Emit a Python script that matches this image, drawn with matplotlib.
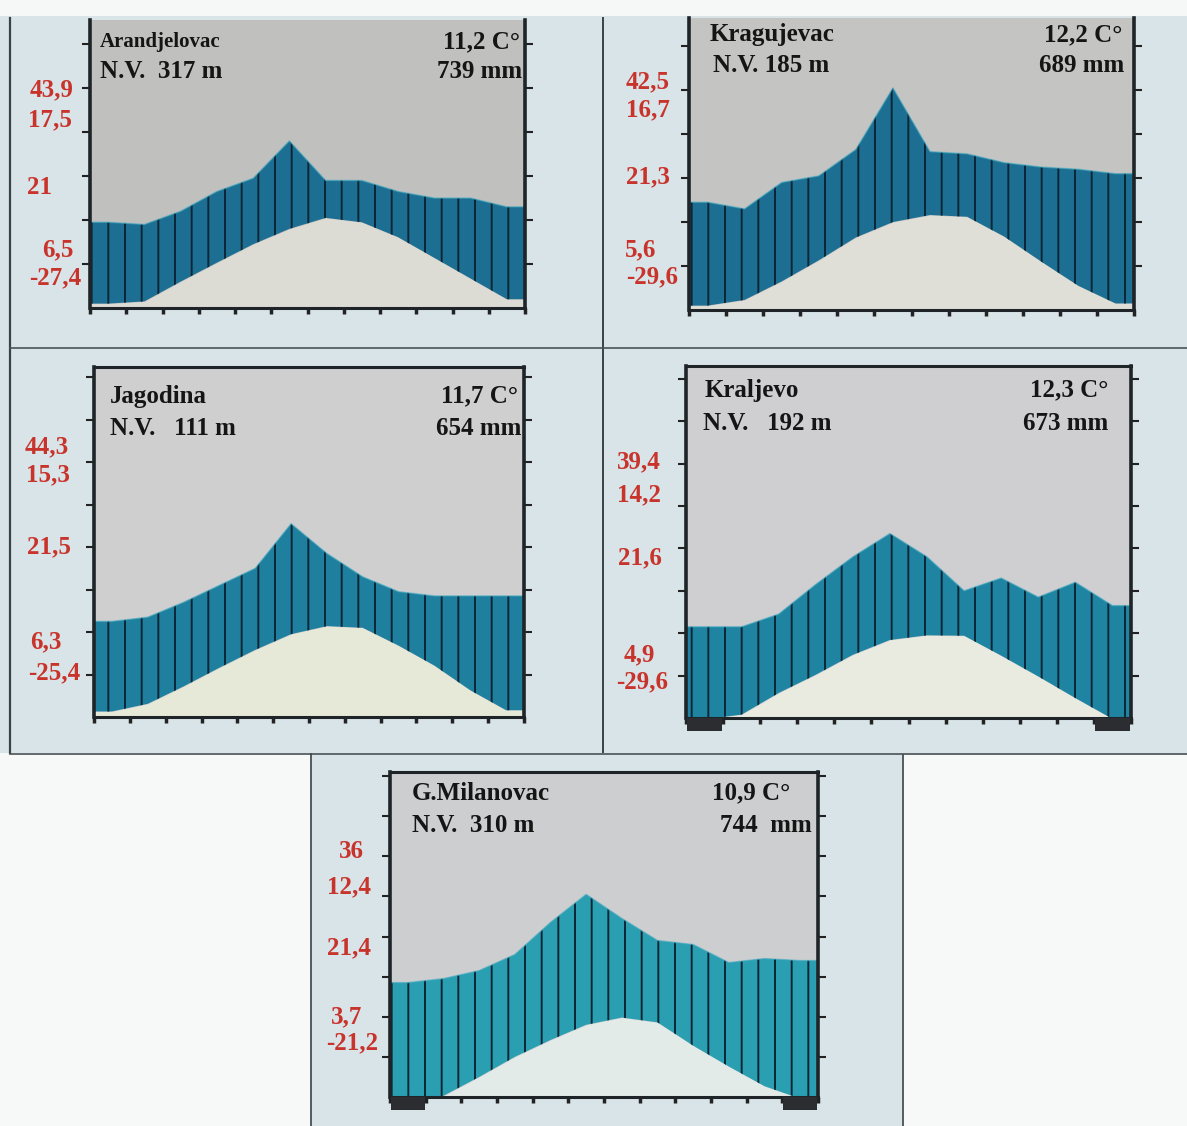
import numpy as np
import matplotlib
matplotlib.use("Agg")
import matplotlib.pyplot as plt
from matplotlib.patches import Rectangle

W, H = 1187, 1126
plt.rcParams['font.family'] = ['Liberation Serif', 'DejaVu Serif']
plt.rcParams['font.weight'] = 'bold'
plt.rcParams['hatch.linewidth'] = 1.4
plt.rcParams['hatch.color'] = '#0d2636'

month_mid = np.arange(12) + 0.5

# station header texts
names = ['Arandjelovac', 'Kragujevac', 'Jagodina', 'Kraljevo', 'G.Milanovac']
altitude = ['N.V.  317 m', 'N.V. 185 m', 'N.V.   111 m', 'N.V.   192 m', 'N.V.  310 m']
year_temp = ['11,2 C°', '12,2 C°', '11,7 C°', '12,3 C°', '10,9 C°']
year_rain = ['739 mm', '689 mm', '654 mm', '673 mm', '744  mm']

# monthly mean temperature (C)
temp_arandjelovac = [1.0, 1.5, 6.0, 10.3, 14.5, 18.0, 20.5, 19.5, 16.1, 11.4, 6.7, 2.0]
temp_kragujevac = [1.0, 2.3, 6.5, 11.3, 16.5, 20.0, 21.6, 21.2, 16.7, 11.0, 5.5, 1.5]
temp_jagodina = [1.3, 3.1, 7.2, 11.6, 15.8, 19.5, 21.4, 21.0, 16.8, 12.1, 6.3, 1.6]
temp_kraljevo = [-0.3, 0.8, 5.9, 10.2, 14.9, 18.4, 19.5, 19.4, 14.7, 9.8, 4.7, -0.2]
temp_milanovac = [-0.5, 0.3, 5.0, 10.0, 14.2, 18.0, 19.8, 18.6, 12.8, 7.6, 2.7, -0.4]

# monthly precipitation (mm), drawn at 10 C = 20 mm
rain_arandjelovac = [39, 38, 44, 53, 59, 76, 58, 58, 53, 50, 50, 46]
rain_kragujevac = [49, 46, 58, 61, 73, 101, 72, 71, 67, 65, 64, 62]
rain_jagodina = [45, 47, 54, 62, 70, 91, 77, 66, 59, 57, 57, 57]
rain_kraljevo = [43, 43, 49, 63, 76, 87, 76, 60, 66, 57, 64, 53]
rain_milanovac = [57, 59, 63, 71, 87, 101, 89, 78, 76, 67, 69, 68]

# red numbers on the left side
side_arandjelovac = ['43,9', '17,5', '21', '6,5', '-27,4']
side_kragujevac = ['42,5', '16,7', '21,3', '5,6', '-29,6']
side_jagodina = ['44,3', '15,3', '21,5', '6,3', '-25,4']
side_kraljevo = ['39,4', '14,2', '21,6', '4,9', '-29,6']
side_milanovac = ['36', '12,4', '21,4', '3,7', '-21,2']

# months with frost (dark box under the axis)
frost_kraljevo = [0, 11]
frost_milanovac = [0, 11]

temps = [temp_arandjelovac, temp_kragujevac, temp_jagodina, temp_kraljevo, temp_milanovac]
rains = [rain_arandjelovac, rain_kragujevac, rain_jagodina, rain_kraljevo, rain_milanovac]
sides = [side_arandjelovac, side_kragujevac, side_jagodina, side_kraljevo, side_milanovac]
frosts = [[], [], [], frost_kraljevo, frost_milanovac]

# layout in pixels: left, right, top, bottom of plot box, y-limit, colours
panels = [
    dict(box=(90, 525, 20, 308), ytop=65.5, top_spine=False, blue='#1c6f92', grey='#c0c0bf', low='#dcdcd4',
         side_xy=[(52, 90), (50, 120), (40, 187), (58, 250), (55, 278)],
         head=[(100, 42), (100, 72), (520, 42), (522, 72)], name_size=15),
    dict(box=(689, 1134, 18, 310), ytop=66.4, top_spine=False, blue='#1c6f92', grey='#c4c4c3', low='#dfdfd8',
         side_xy=[(648, 82), (648, 110), (648, 177), (641, 250), (652, 277)],
         head=[(710, 35), (713, 66), (1122, 35), (1124, 66)], name_size=18),
    dict(box=(94, 524, 367, 717), ytop=82.4, top_spine=True, blue='#1f7f9e', grey='#cfcfd0', low='#e6e8d8',
         side_xy=[(47, 447), (48, 475), (49, 547), (46, 642), (54, 673)],
         head=[(110, 396), (110, 429), (518, 396), (521, 429)], name_size=18),
    dict(box=(686, 1131, 366, 718), ytop=83.0, top_spine=True, blue='#1f84a2', grey='#cfcfd2', low='#e9ebe0',
         side_xy=[(639, 462), (639, 495), (640, 558), (639, 655), (642, 682)],
         head=[(705, 390), (703, 423), (1108, 390), (1108, 423)], name_size=18),
    dict(box=(390, 818, 772, 1097), ytop=81.0, top_spine=True, blue='#2a9fb2', grey='#cdcecf', low='#e2ebe8',
         side_xy=[(351, 852), (349, 887), (349, 948), (347, 1017), (352, 1043)],
         head=[(412, 793), (412, 826), (790, 793), (812, 826)], name_size=18),
]

fig = plt.figure(figsize=(W / 100, H / 100), dpi=100)
fig.patch.set_facecolor('#d9e4e8')

# background sheet with frame lines
bg = fig.add_axes([0, 0, 1, 1], zorder=-5)
bg.set_xlim(0, W)
bg.set_ylim(H, 0)
bg.axis('off')
bg.add_patch(Rectangle((0, 0), W, 16, color='#f6f7f7', lw=0))
bg.add_patch(Rectangle((0, 753), 311, H - 753, color='#f7f8f8', lw=0))
bg.add_patch(Rectangle((903, 755), W - 903, H - 755, color='#f7f8f8', lw=0))
bg.plot([10, 10], [18, 753], color='#3a4246', lw=1.6)
bg.plot([603, 603], [18, 752], color='#3a4246', lw=1.4)
bg.plot([10, W], [348, 348], color='#4a5256', lw=1.2)
bg.plot([10, W], [754, 754], color='#4a5256', lw=1.2)
bg.plot([311, 311], [754, H], color='#3a4246', lw=1.2)
bg.plot([903, 903], [755, H], color='#3a4246', lw=1.2)


def px(x, y):
    return x / W, 1 - y / H


for i, p in enumerate(panels):
    l, r, t, b = p['box']
    ax = fig.add_axes([l / W, 1 - b / H, (r - l) / W, (b - t) / H])
    ax.set_facecolor(p['grey'])
    xs = np.r_[0, month_mid, 12]
    tt = np.array(temps[i], dtype=float)
    pp = np.array(rains[i], dtype=float) / 2
    tt = np.r_[tt[0], tt, tt[-1]]
    pp = np.r_[pp[0], pp, pp[-1]]
    ax.fill_between(xs, -5, tt, color=p['low'], lw=0)
    ax.fill_between(xs, tt, pp, where=pp >= tt, interpolate=True,
                    facecolor=p['blue'], edgecolor='#0d2636', hatch='|', lw=0)
    ax.plot(xs, pp, color='#3fa9c0', lw=1.0, alpha=0.6)
    ax.set_xlim(0, 12)
    ax.set_ylim(0, p['ytop'])
    ax.set_xticks(np.arange(13))
    ax.set_yticks(np.arange(10, p['ytop'], 10))
    ax.tick_params(axis='x', direction='out', length=4, width=2.5, color='#222', labelbottom=False)
    ax.tick_params(axis='y', direction='out', length=6, width=1.5, color='#222',
                   left=True, right=True, labelleft=False)
    for s in ['left', 'right']:
        ax.spines[s].set_linewidth(2.6)
        ax.spines[s].set_color('#1e2428')
    ax.spines['bottom'].set_linewidth(2.2)
    ax.spines['bottom'].set_color('#1e2428')
    ax.spines['top'].set_visible(p['top_spine'])
    ax.spines['top'].set_linewidth(2.2)
    ax.spines['top'].set_color('#1e2428')

    # frost months
    hfrac = 13 / (b - t)
    for m in frosts[i]:
        ax.add_patch(Rectangle((m + 0.02, -hfrac), 0.96, hfrac, transform=ax.get_xaxis_transform(),
                               facecolor='#2b2d30', edgecolor='none', clip_on=False, zorder=5))

    # red side numbers
    for lab, (x, y) in zip(sides[i], p['side_xy']):
        fig.text(*px(x, y), lab, color='#c8342c', fontsize=18, ha='center', va='center', fontweight='bold')

    # header
    (nx, ny), (ax2, ay2), (tx, ty), (rx, ry) = p['head']
    fig.text(*px(nx, ny), names[i], fontsize=p['name_size'], ha='left', va='center', color='#151515')
    fig.text(*px(ax2, ay2), altitude[i], fontsize=18, ha='left', va='center', color='#151515')
    fig.text(*px(tx, ty), year_temp[i], fontsize=18, ha='right', va='center', color='#151515')
    fig.text(*px(rx, ry), year_rain[i], fontsize=18, ha='right', va='center', color='#151515')

fig.savefig('out.png', dpi=100, facecolor=fig.get_facecolor())
